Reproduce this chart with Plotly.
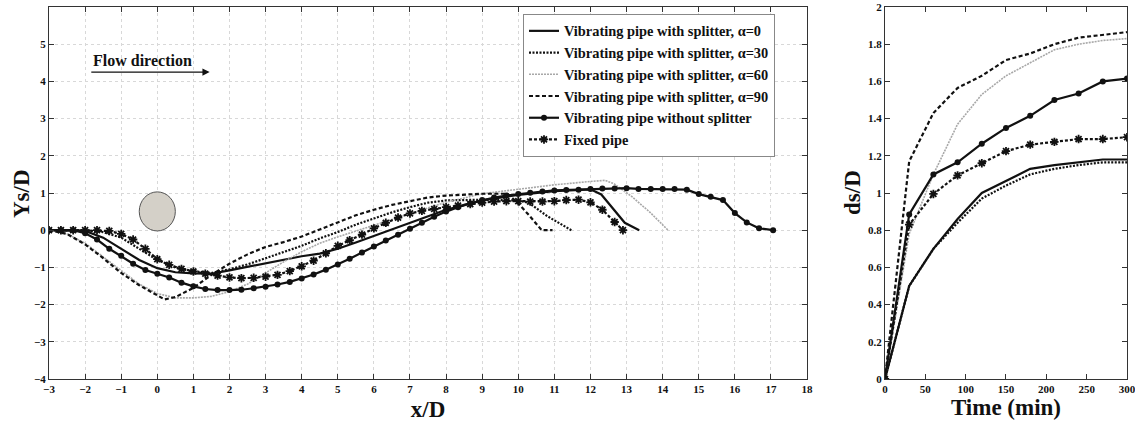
import plotly.graph_objects as go

# ---------------- Left panel: scour profiles Ys/D vs x/D ----------------
x_a0 = [-3, -2.5, -2, -1.5, -1, -0.5, 0, 0.5, 1, 1.5, 2, 2.5, 3, 3.5, 4, 4.5, 5, 5.5, 6, 6.5,
        7, 7.5, 8, 9, 10, 11, 12, 12.3, 12.6, 12.95, 13.35]
y_a0 = [0, 0, -0.02, -0.2, -0.5, -0.8, -1.02, -1.13, -1.16, -1.17, -1.08, -0.98, -0.88, -0.8,
        -0.7, -0.63, -0.5, -0.33, -0.15, 0.03, 0.2, 0.37, 0.55, 0.8, 0.95, 1.05, 1.1, 0.96, 0.6,
        0.2, 0.0]

x_a30 = [-3, -2.5, -2, -1.5, -1, -0.5, 0, 0.5, 1, 1.5, 2, 2.5, 3, 3.5, 4, 4.5, 5, 5.5, 6, 6.5,
         7, 7.5, 8, 9, 10, 10.3, 10.8, 11.47]
y_a30 = [0, 0, 0, -0.05, -0.2, -0.5, -0.8, -1.0, -1.1, -1.15, -1.05, -0.92, -0.75, -0.6, -0.42,
         -0.22, -0.05, 0.15, 0.32, 0.48, 0.62, 0.74, 0.8, 0.82, 0.8, 0.73, 0.38, 0.0]

x_a60 = [-3, -2.5, -2, -1.5, -1, -0.5, 0, 0.5, 1, 1.5, 2, 2.5, 3, 3.5, 4, 4.5, 5, 5.5, 6, 6.5,
         7, 7.5, 8, 9, 10, 11, 12, 12.4, 12.65, 13.15, 13.65, 14.15]
y_a60 = [0, -0.1, -0.35, -0.72, -1.1, -1.45, -1.7, -1.82, -1.82, -1.78, -1.65, -1.45, -1.15,
         -0.85, -0.58, -0.35, -0.18, -0.02, 0.12, 0.3, 0.45, 0.6, 0.75, 0.98, 1.1, 1.22, 1.31,
         1.34, 1.25, 0.9, 0.48, 0.0]

x_a90 = [-3, -2.5, -2, -1.5, -1, -0.5, 0, 0.2, 0.5, 1, 1.5, 2, 2.5, 3, 3.5, 4, 4.5, 5, 5.5, 6,
         6.5, 7, 7.5, 8, 8.5, 9, 9.7, 10.0, 10.3, 10.65, 10.95]
y_a90 = [0, -0.1, -0.38, -0.75, -1.15, -1.48, -1.75, -1.86, -1.8, -1.55, -1.2, -0.9, -0.65,
         -0.45, -0.32, -0.17, 0.02, 0.2, 0.4, 0.55, 0.68, 0.78, 0.88, 0.93, 0.96, 0.98, 0.98,
         0.72, 0.4, 0.0, 0.0]

x_nosplit = [-3, -2.67, -2.33, -2, -1.67, -1.33, -1, -0.67, -0.33, 0, 0.33, 0.67, 1, 1.33, 1.67,
             2, 2.33, 2.67, 3, 3.33, 3.67, 4, 4.33, 4.67, 5, 5.33, 5.67, 6, 6.33, 6.67, 7, 7.33,
             7.67, 8, 8.33, 8.67, 9, 9.33, 9.67, 10, 10.33, 10.67, 11, 11.33, 11.67, 12, 12.33,
             12.67, 13, 13.33, 13.67, 14, 14.33, 14.67, 15, 15.33, 15.67, 16, 16.33, 16.67, 17.06]
y_nosplit = [0, 0, 0, -0.08, -0.25, -0.5, -0.69, -0.9, -1.07, -1.17, -1.27, -1.41, -1.51, -1.58,
             -1.61, -1.61, -1.6, -1.56, -1.52, -1.46, -1.39, -1.3, -1.19, -1.06, -0.92, -0.77,
             -0.6, -0.44, -0.28, -0.12, 0.04, 0.2, 0.36, 0.5, 0.62, 0.72, 0.81, 0.88, 0.93, 0.97,
             1.01, 1.04, 1.07, 1.08, 1.09, 1.11, 1.12, 1.12, 1.13, 1.11, 1.11, 1.11, 1.11, 1.09,
             0.97, 0.9, 0.81, 0.46, 0.21, 0.05, 0.0]

x_fixed = [-3, -2.67, -2.33, -2, -1.67, -1.33, -1, -0.67, -0.33, 0, 0.33, 0.67, 1, 1.33, 1.67,
           2, 2.33, 2.67, 3, 3.33, 3.67, 4, 4.33, 4.67, 5, 5.33, 5.67, 6, 6.33, 6.67, 7, 7.33,
           7.67, 8, 8.33, 8.67, 9, 9.33, 9.67, 10, 10.33, 10.67, 11, 11.33, 11.67, 12, 12.33,
           12.67, 12.9]
y_fixed = [0, 0, 0, 0, 0, -0.02, -0.1, -0.25, -0.5, -0.78, -0.93, -1.04, -1.11, -1.17, -1.22,
           -1.27, -1.29, -1.28, -1.25, -1.2, -1.1, -0.97, -0.82, -0.62, -0.42, -0.27, -0.12,
           0.05, 0.2, 0.34, 0.45, 0.52, 0.57, 0.62, 0.66, 0.7, 0.74, 0.77, 0.78, 0.78, 0.77,
           0.77, 0.78, 0.81, 0.82, 0.75, 0.55, 0.22, 0.0]

# ---------------- Right panel: ds/D vs time ----------------
time_min = [0, 30, 60, 90, 120, 150, 180, 210, 240, 270, 300]
ds_a0 = [0, 0.5, 0.7, 0.86, 1.0, 1.065, 1.13, 1.15, 1.165, 1.18, 1.18]
ds_a30 = [0, 0.5, 0.7, 0.84, 0.97, 1.04, 1.1, 1.13, 1.15, 1.165, 1.165]
ds_a60 = [0, 0.78, 1.1, 1.37, 1.53, 1.63, 1.70, 1.77, 1.80, 1.82, 1.83]
ds_a90 = [0, 1.17, 1.43, 1.565, 1.63, 1.715, 1.75, 1.80, 1.835, 1.85, 1.865]
ds_nosplit = [0, 0.885, 1.1, 1.165, 1.265, 1.35, 1.415, 1.5, 1.535, 1.6, 1.615]
ds_fixed = [0, 0.83, 0.995, 1.095, 1.16, 1.225, 1.26, 1.275, 1.29, 1.29, 1.30]

names = ["Vibrating pipe with splitter, \u03b1=0",
         "Vibrating pipe with splitter, \u03b1=30",
         "Vibrating pipe with splitter, \u03b1=60",
         "Vibrating pipe with splitter, \u03b1=90",
         "Vibrating pipe without splitter",
         "Fixed pipe"]

SERIF = "Liberation Serif, Times New Roman, serif"
styles = [
    dict(line=dict(color="#111111", width=2.2, dash="solid"), mode="lines"),
    dict(line=dict(color="#111111", width=2.2, dash="2px,1.5px"), mode="lines"),
    dict(line=dict(color="#a8a8a8", width=1.6, dash="2px,1px"), mode="lines"),
    dict(line=dict(color="#111111", width=2.2, dash="4px,2.5px"), mode="lines"),
    dict(line=dict(color="#111111", width=2.2, dash="solid"), mode="lines+markers",
         marker=dict(symbol="circle", size=6, color="#111111")),
    dict(line=dict(color="#111111", width=2.2, dash="3px,2px"), mode="lines+markers",
         marker=dict(symbol="asterisk-open", size=7, line=dict(color="#111111", width=1.8))),
]

left_x = [x_a0, x_a30, x_a60, x_a90, x_nosplit, x_fixed]
left_y = [y_a0, y_a30, y_a60, y_a90, y_nosplit, y_fixed]
right_y = [ds_a0, ds_a30, ds_a60, ds_a90, ds_nosplit, ds_fixed]

fig = go.Figure()
for i in range(6):
    fig.add_trace(go.Scatter(x=left_x[i], y=left_y[i], name=names[i], xaxis="x", yaxis="y",
                             showlegend=True, **styles[i]))
for i in range(6):
    fig.add_trace(go.Scatter(x=time_min, y=right_y[i], name=names[i], xaxis="x2", yaxis="y2",
                             showlegend=False, **styles[i]))

tickfont = dict(family=SERIF, size=11, color="#111111", weight="bold")
titlefont = dict(family=SERIF, size=23, color="#111111", weight="bold")
common = dict(showline=True, linecolor="#333333", linewidth=1, mirror="ticks", ticks="inside",
              ticklen=5, tickcolor="#333333", tickfont=tickfont, zeroline=False,
              ticklabeloverflow="allow")

W, H = 1135, 427
PL, PR = 49, 1127  # plot-area pixel extent in the window
PT, PB = 7, 379


def px2paper(px):
    return (px - PL) / (PR - PL)


def py2paper(py):
    return 1 - (py - PT) / (PB - PT)


fig.update_layout(
    width=W, height=H,
    margin=dict(l=PL, r=W - PR, t=PT, b=H - PB, autoexpand=False),
    paper_bgcolor="white", plot_bgcolor="white",
    xaxis=dict(domain=[0, 0.7032], range=[-3, 18], tickmode="linear", tick0=-3, dtick=1,
               showgrid=True, gridcolor="#d8d8d8", griddash="dot", gridwidth=1,
               title=dict(text="x/D", font=titlefont, standoff=6), **common),
    yaxis=dict(range=[-4, 6], tickvals=list(range(-4, 6)), showgrid=True, gridcolor="#d8d8d8",
               griddash="dot", gridwidth=1, **common),
    xaxis2=dict(domain=[0.7755, 1], range=[0, 300], tickmode="linear", tick0=0, dtick=50,
                showgrid=False, anchor="y2",
                title=dict(text="Time (min)", font=titlefont, standoff=2), **common),
    yaxis2=dict(range=[0, 2], tickmode="linear", tick0=0, dtick=0.2, showgrid=False,
                anchor="x2", **common),
    legend=dict(x=px2paper(523), y=py2paper(14), xanchor="left", yanchor="top",
                bgcolor="white", bordercolor="#888888", borderwidth=1,
                font=dict(family=SERIF, size=14.4, color="#111111", weight="bold"),
                tracegroupgap=0, itemwidth=30),
    shapes=[dict(type="circle", xref="x", yref="y", x0=-0.5, x1=0.5, y0=-0.02, y1=1.03,
                 fillcolor="#d4d0c8", line=dict(color="#555555", width=1))],
    annotations=[
        dict(text="Ys/D", xref="paper", yref="paper", x=px2paper(21), y=0.5,
             xanchor="center", yanchor="middle", textangle=-90, showarrow=False,
             font=titlefont),
        dict(text="ds/D", xref="paper", yref="paper", x=px2paper(852), y=0.5,
             xanchor="center", yanchor="middle", textangle=-90, showarrow=False,
             font=titlefont),
        dict(text="Flow direction", xref="x", yref="y", x=-1.83, y=4.55, xanchor="left",
             yanchor="middle", showarrow=False,
             font=dict(family=SERIF, size=16, color="#111111", weight="bold")),
        dict(text="", xref="x", yref="y", axref="x", ayref="y", x=1.45, y=4.25, ax=-1.87,
             ay=4.25, showarrow=True, arrowhead=2, arrowsize=1.2, arrowwidth=1.2,
             arrowcolor="#111111"),
    ],
)

fig.write_html("out.html", config={"displayModeBar": False},
               post_script="document.body.style.margin='0px';document.body.style.overflow='hidden';")
